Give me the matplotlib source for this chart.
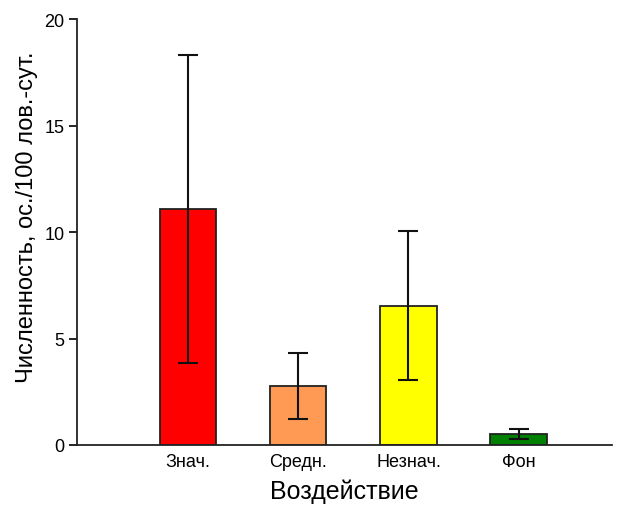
import matplotlib
matplotlib.use("Agg")
import matplotlib.pyplot as plt
import numpy as np

plt.rcParams['font.family'] = ['Liberation Sans', 'DejaVu Sans']

# Данные
categories = ['Знач.', 'Средн.', 'Незнач.', 'Фон']
means = [11.08, 2.77, 6.53, 0.52]
err_low = [3.85, 1.22, 3.05, 0.28]
err_high = [18.3, 4.32, 10.05, 0.75]
colors = ['#ff0000', '#ff9a55', '#ffff00', '#008000']

x = np.arange(len(categories))
means_arr = np.array(means)
yerr = [means_arr - np.array(err_low), np.array(err_high) - means_arr]

fig = plt.figure(figsize=(6.24, 5.06), dpi=100)
ax = fig.add_axes([0.1234, 0.1186, 0.8576, 0.8414])

ax.bar(x, means, width=0.51, color=colors, edgecolor='#222222', linewidth=1.3, zorder=2)
ax.errorbar(x, means, yerr=yerr, fmt='none', ecolor='#111111', elinewidth=1.5,
            capsize=7.5, capthick=1.5, zorder=3)

ax.set_xlim(-1.01, 3.85)
ax.set_ylim(0, 20)
ax.set_yticks([0, 5, 10, 15, 20])
ax.set_xticks(x)
ax.set_xticklabels(categories, fontsize=13)
ax.tick_params(axis='x', length=0, pad=6)
ax.tick_params(axis='y', labelsize=13, length=6, width=1.2, direction='out', pad=3)

for s in ['top', 'right']:
    ax.spines[s].set_visible(False)
for s in ['left', 'bottom']:
    ax.spines[s].set_linewidth(1.3)
    ax.spines[s].set_color('#222222')

ax.set_xlabel('Воздействие', fontsize=18, labelpad=6)
ax.set_ylabel('Численность, ос./100 лов.-сут.', fontsize=17)
ax.yaxis.set_label_coords(-0.072, 0.537)

fig.savefig('out.png', dpi=100)
